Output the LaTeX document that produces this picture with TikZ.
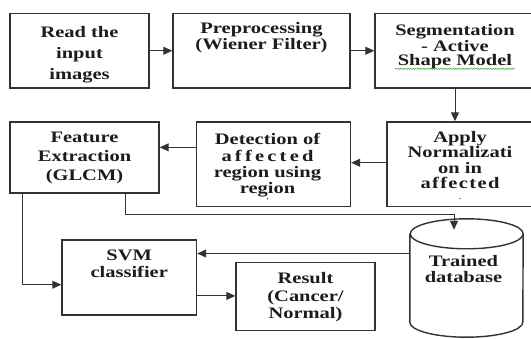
\documentclass[tikz,border=0pt]{standalone}
\usepackage{fontspec}
\setmainfont{Liberation Serif}[UprightFont=*, BoldFont=* Bold, FakeStretch=1.28]
\usetikzlibrary{arrows.meta,positioning,decorations.pathmorphing}
\definecolor{frame}{HTML}{333333}
\definecolor{ink}{HTML}{1C1C1C}
\definecolor{spell}{HTML}{2F9E2F}

\begin{document}
\begin{tikzpicture}[x=1pt, y=-1pt,
    box/.style={rectangle, draw=frame, line width=1.4pt, inner sep=0pt},
    txt/.style={align=center, inner sep=0pt, text=ink, font=\fontsize{16}{#1}\selectfont\bfseries},
    txt/.default=17,
    arrow/.style={-{Triangle[length=9pt,width=8pt]}, line width=1pt, frame}
]
    \useasboundingbox (0,0) rectangle (531,339);

    \node[box, minimum width=139pt, minimum height=74.5pt] (read) at (79.5,50.75) {};
    \node[box, minimum width=177pt, minimum height=74.5pt] (pre) at (261.5,50.75) {};
    \node[box, minimum width=160pt, minimum height=74.5pt] (seg) at (455,50.75) {};
    \node[box, minimum width=149pt, minimum height=71pt] (feat) at (84.5,157.5) {};
    \node[box, minimum width=154pt, minimum height=84.7pt] (detect) at (273.5,164.35) {};
    \node[box, minimum width=146pt, minimum height=84.7pt] (apply) at (460,164.35) {};
    \node[box, minimum width=134.5pt, minimum height=75pt] (svm) at (129.25,277.5) {};
    \node[box, minimum width=139pt, minimum height=67.7pt] (result) at (305.5,296.55) {};
    % database drawn by hand round an empty node
    \node[minimum width=113pt, minimum height=118pt, inner sep=0pt] (db) at (466.5,278) {};
    \draw[frame, line width=1.4pt] ([yshift=-15pt]db.north west) -- ([yshift=15pt]db.south west)
        arc[start angle=180, end angle=360, x radius=56.5pt, y radius=15pt]
        -- ([yshift=-15pt]db.north east)
        arc[start angle=0, end angle=360, x radius=56.5pt, y radius=15pt];

    \node[txt=21, below=13.5pt of read.north] (read-t) {Read the\\input\\images};
    \node[txt=16.6, below=9.2pt of pre.north] (pre-t) {Preprocessing\\(Wiener Filter)};
    \node[txt=14.5, below=11.5pt of seg.north] (seg-t) {Segmentation\\- Active\\Shape Model};
    \node[txt=18.7, below=10.7pt of feat.north] (feat-t) {Feature\\Extraction\\(GLCM)};
    \node[txt=16.4, below=12pt of detect.north, xshift=-6pt] (detect-t)
        {Detection of\\\makebox[92pt]{a\hfill f\hfill f\hfill e\hfill c\hfill t\hfill e\hfill d}\\region using\\region};
    \node[txt=15.5, below=9.7pt of apply.north] (apply-t)
        {Apply\\Normalizati\\on in\\\makebox[79pt]{a\hfill f\hfill f\hfill e\hfill c\hfill t\hfill e\hfill d}};
    \node[txt, below=10.8pt of svm.north] (svm-t) {SVM\\classifier};
    \node[txt=17.8, below=10pt of result.north] (result-t) {Result\\(Cancer/\\Normal)};
    \node[txt=16.7, below=36pt of db.north, xshift=-3pt] (db-t) {Trained\\database};

    \draw[spell, line width=0.5pt, decorate, decoration={snake, amplitude=0.6pt, segment length=2.5pt}]
        ([yshift=0.5pt]seg-t.south west) -- ([yshift=0.5pt]seg-t.south east);
    \fill[ink] ([yshift=-1.2pt]detect-t.south) circle (0.7pt);
    \fill[ink] ([yshift=-9.3pt]apply-t.south) circle (0.7pt);

    \draw[arrow] (read) -- (pre);
    \draw[arrow] (pre) -- (seg);
    \draw[arrow] (seg.south) -- (seg.south |- apply.north);
    \draw[arrow] ([yshift=1.6pt]apply.west) -- ([yshift=1.6pt]apply.west -| detect.east);
    \draw[arrow] ([yshift=17pt]detect.west) -- ([yshift=17pt]detect.west -| feat.east);
    \draw[arrow] ([xshift=-62.5pt]feat.south) |- ([yshift=-7.2pt]svm.west);
    \coordinate (dbin) at ([xshift=-12.5pt,yshift=-11pt]db.north);
    \draw[arrow] ([xshift=40.8pt]feat.south) -- ++(0,20.5) -| (dbin);
    \draw[arrow] ([yshift=24pt]svm.east -| db.west) -- ([yshift=24pt]svm.east);
    \draw[arrow] ([yshift=-18.4pt]svm.east) -- ([yshift=-18.4pt]svm.east -| result.west);
\end{tikzpicture}
\end{document}
